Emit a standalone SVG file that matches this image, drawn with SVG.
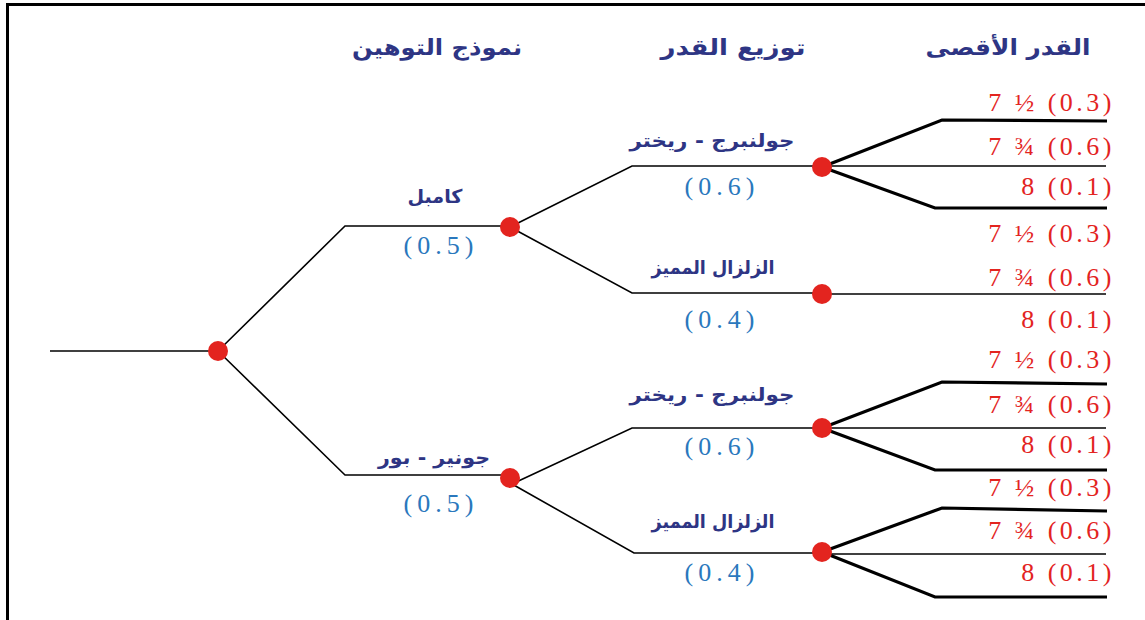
<svg xmlns="http://www.w3.org/2000/svg" width="1145" height="620" viewBox="0 0 1145 620">
<style>
.frame{fill:none;stroke:#000;stroke-width:3}
.thin{fill:none;stroke:#000;stroke-width:1.6}
.thick{fill:none;stroke:#000;stroke-width:3.2}
.dot{fill:#e3241f}
.hdr{font-family:"DejaVu Sans",sans-serif;font-weight:bold;font-size:22px;fill:#2e3584;text-anchor:middle}
.lbl{font-family:"DejaVu Sans",sans-serif;font-weight:bold;font-size:19px;fill:#2e3584;text-anchor:middle}
.prob{font-family:"Liberation Serif",serif;font-size:26px;fill:#2a78bd;text-anchor:middle;letter-spacing:5px}
.out{font-family:"Liberation Serif",serif;font-size:26px;fill:#e3241f;text-anchor:end;letter-spacing:3.5px}
</style>
<rect width="1145" height="620" fill="#fff"/>
<path class="frame" d="M7.5 620 V4.5 H1145"/>
<g id="connectors">
<path class="thin" d="M50 351 H218"/>
<path class="thin" d="M218 351 L345 226 H510"/>
<path class="thin" d="M218 351 L345 475 H510"/>
<path class="thin" d="M510 227 L632 166 H822"/>
<path class="thin" d="M510 227 L632 293 H822"/>
<path class="thin" d="M512 484 L632 428 H822"/>
<path class="thin" d="M512 484 L634 553 H822"/>
<path class="thick" d="M822 167 L942 120 L1107 121"/>
<path class="thin" d="M822 166 H1106"/>
<path class="thick" d="M822 167 L935 208 H1107"/>
<path class="thin" d="M822 294 H1106"/>
<path class="thick" d="M822 428 L942 382 L1107 384"/>
<path class="thin" d="M822 428 H1106"/>
<path class="thick" d="M822 428 L935 470 H1107"/>
<path class="thick" d="M822 552 L942 508 L1107 511"/>
<path class="thin" d="M822 554 H1106"/>
<path class="thick" d="M822 552 L935 597 H1107"/>
</g>
<g id="headers">
<text class="hdr" x="437" y="55" textLength="170" lengthAdjust="spacingAndGlyphs">نموذج التوهين</text>
<text class="hdr" x="733" y="55" textLength="145" lengthAdjust="spacingAndGlyphs">توزيع القدر</text>
<text class="hdr" x="1008" y="55" textLength="165" lengthAdjust="spacingAndGlyphs">القدر الأقصى</text>
</g>
<g id="n-root"><circle class="dot" cx="218" cy="351" r="10"/></g>
<g id="n-campbell">
<circle class="dot" cx="510" cy="227" r="10"/>
<text class="lbl" x="435" y="203" textLength="55" lengthAdjust="spacingAndGlyphs">كامبل</text>
<text class="prob" x="441" y="254">(0.5)</text>
</g>
<g id="n-joyner">
<circle class="dot" cx="510" cy="478" r="10"/>
<text class="lbl" x="434" y="464" textLength="112" lengthAdjust="spacingAndGlyphs">جونير - بور</text>
<text class="prob" x="441" y="512">(0.5)</text>
</g>
<g id="n-gr1">
<circle class="dot" cx="822" cy="167" r="10"/>
<text class="lbl" x="712" y="147" textLength="165" lengthAdjust="spacingAndGlyphs">جولنبرج - ريختر</text>
<text class="prob" x="722" y="195">(0.6)</text>
</g>
<g id="n-ce1">
<circle class="dot" cx="822" cy="294" r="10"/>
<text class="lbl" x="713" y="274" textLength="123" lengthAdjust="spacingAndGlyphs">الزلزال المميز</text>
<text class="prob" x="722" y="328">(0.4)</text>
</g>
<g id="n-gr2">
<circle class="dot" cx="822" cy="428" r="10"/>
<text class="lbl" x="712" y="401" textLength="165" lengthAdjust="spacingAndGlyphs">جولنبرج - ريختر</text>
<text class="prob" x="722" y="455">(0.6)</text>
</g>
<g id="n-ce2">
<circle class="dot" cx="822" cy="552" r="10"/>
<text class="lbl" x="713" y="528" textLength="123" lengthAdjust="spacingAndGlyphs">الزلزال المميز</text>
<text class="prob" x="722" y="581">(0.4)</text>
</g>
<g id="outcomes">
<text class="out" x="1115" y="111">7 ½ (0.3)</text>
<text class="out" x="1115" y="155">7 ¾ (0.6)</text>
<text class="out" x="1115" y="195">8 (0.1)</text>
<text class="out" x="1115" y="242">7 ½ (0.3)</text>
<text class="out" x="1115" y="286">7 ¾ (0.6)</text>
<text class="out" x="1115" y="328">8 (0.1)</text>
<text class="out" x="1115" y="368">7 ½ (0.3)</text>
<text class="out" x="1115" y="413">7 ¾ (0.6)</text>
<text class="out" x="1115" y="453">8 (0.1)</text>
<text class="out" x="1115" y="496">7 ½ (0.3)</text>
<text class="out" x="1115" y="539">7 ¾ (0.6)</text>
<text class="out" x="1115" y="581">8 (0.1)</text>
</g>
</svg>
